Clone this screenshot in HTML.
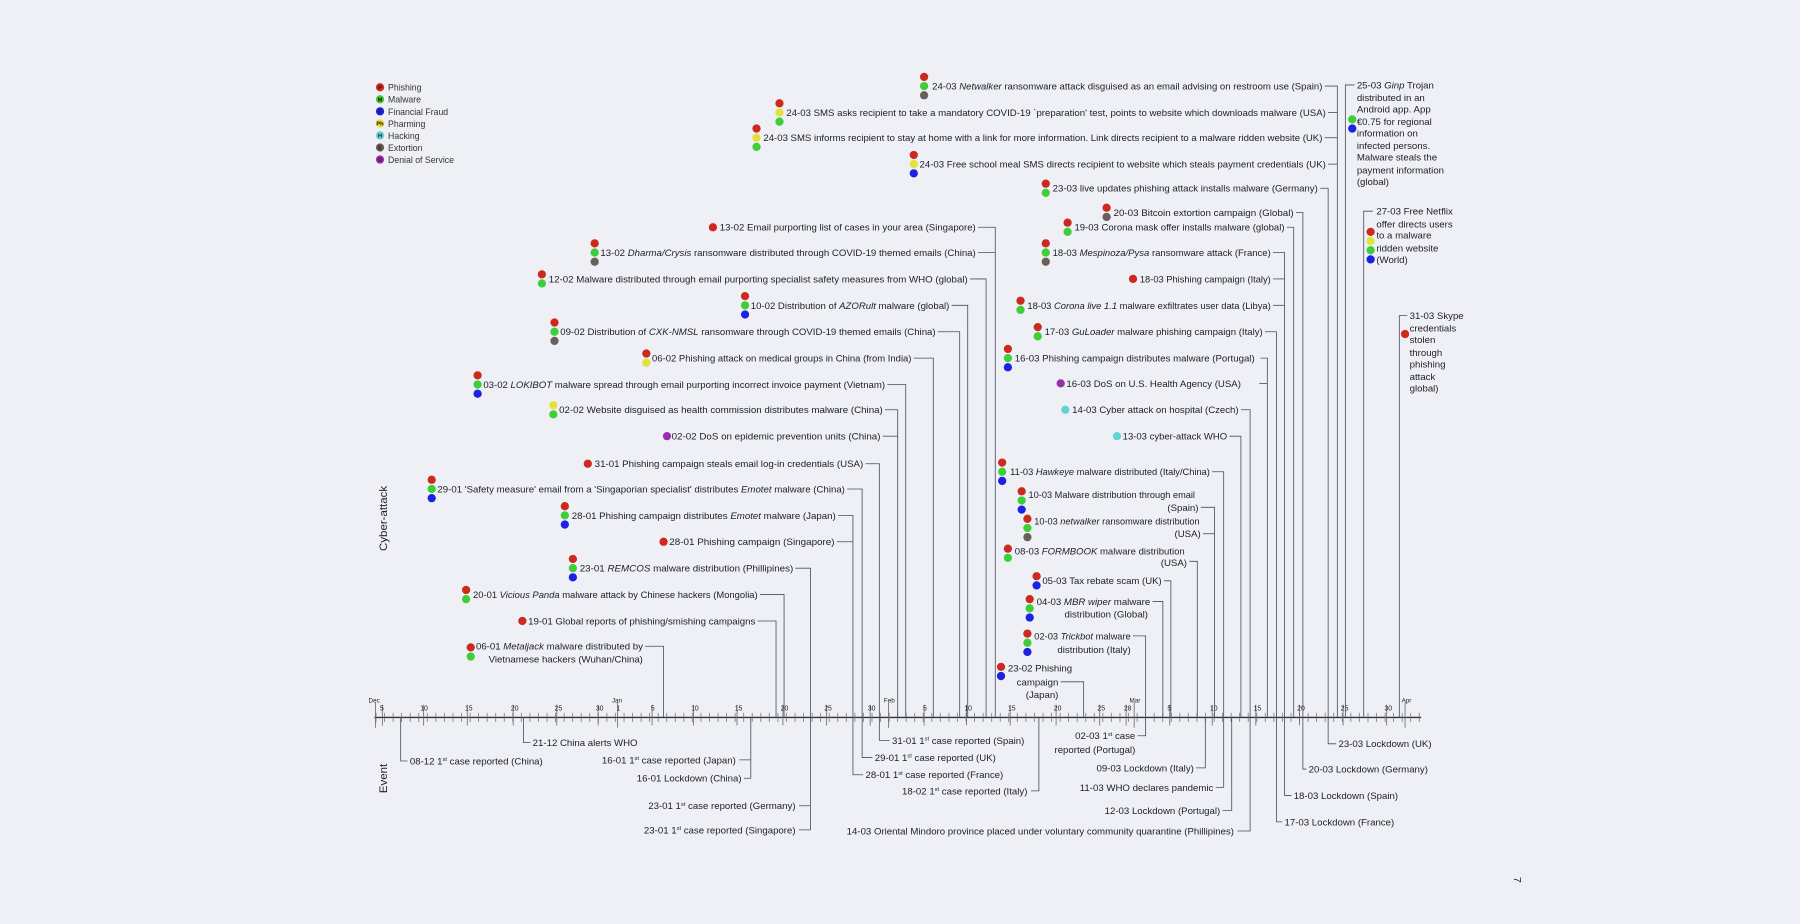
<!DOCTYPE html>
<html><head><meta charset="utf-8"><style>
html,body{margin:0;padding:0;background:#eef0f5;}
svg{display:block}
text{font-family:"Liberation Sans",Arial,sans-serif;fill:#1e1e24}
.t{font-size:8.4px}
.lg{font-size:7.6px;fill:#333}
.il{font-size:5px;font-weight:bold;text-anchor:middle;fill:#3a0a08}
.ax{font-size:6px;fill:#777}
.mo{font-size:5.5px;fill:#888}
.ln{fill:none;stroke:#454a66;stroke-width:0.7}
.P{fill:#cc2a1e}.M{fill:#3fce3a}.F{fill:#1c22e0}.Ph{fill:#e4e23a}.H{fill:#62d4d6}.E{fill:#6a5f58}.D{fill:#9a2fae}
</style></head><body>
<svg width="1800" height="924" viewBox="0 0 1568 805" xmlns="http://www.w3.org/2000/svg">
<defs>
<pattern id="tk" x="327" y="621" width="7.45" height="8" patternUnits="userSpaceOnUse"><line x1="0.5" y1="0" x2="0.5" y2="8" stroke="#666" stroke-width="0.6"/></pattern>
</defs>
<rect width="1568" height="805" fill="#eef0f5"/>

<g>
<circle class="P" cx="331" cy="76" r="3.6"/><text class="il" x="331" y="77.8">P</text><text class="lg" x="338" y="79">Phishing</text>
<circle class="M" cx="331" cy="86.5" r="3.6"/><text class="il" x="331" y="88.3">M</text><text class="lg" x="338" y="89.5">Malware</text>
<circle class="F" cx="331" cy="97" r="3.6"/><text class="il" x="331" y="98.8">F</text><text class="lg" x="338" y="100">Financial Fraud</text>
<circle class="Ph" cx="331" cy="107.5" r="3.6"/><text class="il" x="331" y="109.3">Ph</text><text class="lg" x="338" y="110.5">Pharming</text>
<circle class="H" cx="331" cy="118" r="3.6"/><text class="il" x="331" y="119.8">H</text><text class="lg" x="338" y="121">Hacking</text>
<circle class="E" cx="331" cy="128.5" r="3.6"/><text class="il" x="331" y="130.3">E</text><text class="lg" x="338" y="131.5">Extortion</text>
<circle class="D" cx="331" cy="139" r="3.6"/><text class="il" x="331" y="140.8">D</text><text class="lg" x="338" y="142">Denial of Service</text>
</g>

<text x="0" y="0" font-size="10" transform="translate(337,480) rotate(-90)">Cyber-attack</text>
<text x="0" y="0" font-size="10" transform="translate(337,691) rotate(-90)">Event</text>
<text x="0" y="0" font-size="9" transform="translate(1319,764) rotate(90)">7</text>

<line x1="326" y1="625" x2="1238" y2="625" stroke="#333" stroke-width="1.2"/>
<rect x="327" y="621" width="911" height="8" fill="url(#tk)"/>
<g stroke="#666" stroke-width="0.7">
<line x1="327" y1="612" x2="327" y2="634"/><line x1="333" y1="614" x2="333" y2="632"/><line x1="369" y1="614" x2="369" y2="632"/><line x1="407" y1="614" x2="407" y2="632"/><line x1="447" y1="614" x2="447" y2="632"/><line x1="485" y1="614" x2="485" y2="632"/><line x1="521" y1="614" x2="521" y2="632"/>
<line x1="538" y1="612" x2="538" y2="634"/><line x1="568" y1="614" x2="568" y2="632"/><line x1="604" y1="614" x2="604" y2="632"/><line x1="642" y1="614" x2="642" y2="632"/><line x1="682" y1="614" x2="682" y2="632"/><line x1="720" y1="614" x2="720" y2="632"/><line x1="758" y1="614" x2="758" y2="632"/>
<line x1="774" y1="612" x2="774" y2="634"/><line x1="805" y1="614" x2="805" y2="632"/><line x1="842" y1="614" x2="842" y2="632"/><line x1="880" y1="614" x2="880" y2="632"/><line x1="920" y1="614" x2="920" y2="632"/><line x1="958" y1="614" x2="958" y2="632"/><line x1="981" y1="614" x2="981" y2="632"/>
<line x1="988" y1="612" x2="988" y2="634"/><line x1="1019" y1="614" x2="1019" y2="632"/><line x1="1056" y1="614" x2="1056" y2="632"/><line x1="1094" y1="614" x2="1094" y2="632"/><line x1="1132" y1="614" x2="1132" y2="632"/><line x1="1170" y1="614" x2="1170" y2="632"/><line x1="1208" y1="614" x2="1208" y2="632"/>
<line x1="1224" y1="612" x2="1224" y2="634"/>
</g>
<g class="mo"><text x="321" y="612">Dec</text><text x="533" y="612">Jan</text><text x="770" y="612">Feb</text><text x="984" y="612">Mar</text><text x="1221" y="612">Apr</text></g>
<g class="ax">
<text x="331" y="619">5</text><text x="366" y="619">10</text><text x="405" y="619">15</text><text x="445" y="619">20</text><text x="483" y="619">25</text><text x="519" y="619">30</text><text x="537" y="619">1</text>
<text x="567" y="619">5</text><text x="602" y="619">10</text><text x="640" y="619">15</text><text x="680" y="619">20</text><text x="718" y="619">25</text><text x="756" y="619">30</text>
<text x="804" y="619">5</text><text x="840" y="619">10</text><text x="878" y="619">15</text><text x="918" y="619">20</text><text x="956" y="619">25</text><text x="979" y="619">28</text>
<text x="1017" y="619">5</text><text x="1054" y="619">10</text><text x="1092" y="619">15</text><text x="1130" y="619">20</text><text x="1168" y="619">25</text><text x="1206" y="619">30</text>
</g>

<g class="ln">
<path d="M1154 75H1165V625"/><path d="M1157 98H1165"/><path d="M1154 120H1165"/><path d="M1157 143H1165"/>
<path d="M1150 164H1157V625"/><path d="M1129 185H1135V625"/><path d="M1121 198H1127V625"/>
<path d="M1109 220H1119V625"/><path d="M1109 243H1119"/><path d="M1109 266H1119"/>
<path d="M1102 289H1112V625"/><path d="M1098 312H1104V625"/><path d="M1097 334H1104"/>
<path d="M1081 357H1089V625"/><path d="M1071 380H1081V625"/><path d="M1056 411H1066V625"/>
<path d="M1046 442H1058V625"/><path d="M1048 465H1058"/><path d="M1036 489H1043V625"/>
<path d="M1014 506H1020V625"/><path d="M1004 524H1013V625"/><path d="M987 554H998V625"/><path d="M924 594H944V625"/>
<path d="M1180 74H1172V625"/><path d="M1196 184H1188V625"/><path d="M1226 275H1219V625"/>
<path d="M852 198H867V625"/><path d="M852 220H867"/><path d="M845 243H859V625"/><path d="M829 266H843V625"/>
<path d="M817 289H836V625"/><path d="M796 312H813V625"/><path d="M773 335H789V625"/><path d="M771 357H782V625"/><path d="M769 380H782"/>
<path d="M754 404H766V625"/><path d="M738 426H751V625"/><path d="M730 449H743V625"/><path d="M729 472H743"/>
<path d="M693 495H706V625"/><path d="M662 518H683V625"/><path d="M660 541H676V625"/><path d="M562 563H578V625"/>
</g>
<g class="ln">
<path d="M349 625V663H355"/><path d="M456 625V647H462"/><path d="M654 625V678H648M654 662H644"/><path d="M706 625V723H696M706 702H696"/>
<path d="M766 625V645H775"/><path d="M751 625V660H760"/><path d="M743 625V675H752"/><path d="M905 625V689H898"/><path d="M998 625V641H991"/>
<path d="M1050 625V669H1042"/><path d="M1066 625V686H1059"/><path d="M1073 625V706H1065"/><path d="M1089 625V724H1078"/>
<path d="M1112 625V716H1117"/><path d="M1119 625V693H1125"/><path d="M1135 625V670H1138"/><path d="M1157 625V648H1164"/>
</g>

<g class="t">
<text x="1152" y="78" text-anchor="end" textLength="340" lengthAdjust="spacingAndGlyphs">24-03 <tspan font-style="italic">Netwalker</tspan> ransomware attack disguised as an email advising on restroom use (Spain)</text>
<text x="1155" y="101" text-anchor="end" textLength="470" lengthAdjust="spacingAndGlyphs">24-03 SMS asks recipient to take a mandatory COVID-19 `preparation' test, points to website which downloads malware (USA)</text>
<text x="1152" y="123" text-anchor="end" textLength="487" lengthAdjust="spacingAndGlyphs">24-03 SMS informs recipient to stay at home with a link for more information. Link directs recipient to a malware ridden website (UK)</text>
<text x="1155" y="146" text-anchor="end" textLength="354" lengthAdjust="spacingAndGlyphs">24-03 Free school meal SMS directs recipient to website which steals payment credentials (UK)</text>
<text x="1148" y="167" text-anchor="end" textLength="231" lengthAdjust="spacingAndGlyphs">23-03 live updates phishing attack installs malware (Germany)</text>
<text x="1127" y="188" text-anchor="end" textLength="157" lengthAdjust="spacingAndGlyphs">20-03 Bitcoin extortion campaign (Global)</text>
<text x="1119" y="201" text-anchor="end" textLength="183" lengthAdjust="spacingAndGlyphs">19-03 Corona mask offer installs malware (global)</text>
<text x="1107" y="223" text-anchor="end" textLength="190" lengthAdjust="spacingAndGlyphs">18-03 <tspan font-style="italic">Mespinoza/Pysa</tspan> ransomware attack (France)</text>
<text x="1107" y="246" text-anchor="end" textLength="114" lengthAdjust="spacingAndGlyphs">18-03 Phishing campaign (Italy)</text>
<text x="1107" y="269" text-anchor="end" textLength="212" lengthAdjust="spacingAndGlyphs">18-03 <tspan font-style="italic">Corona live 1.1</tspan> malware exfiltrates user data (Libya)</text>
<text x="1100" y="292" text-anchor="end" textLength="190" lengthAdjust="spacingAndGlyphs">17-03 <tspan font-style="italic">GuLoader</tspan> malware phishing campaign (Italy)</text>
<text x="1093" y="315" text-anchor="end" textLength="209" lengthAdjust="spacingAndGlyphs">16-03 Phishing campaign distributes malware  (Portugal)</text>
<text x="1081" y="337" text-anchor="end" textLength="152" lengthAdjust="spacingAndGlyphs">16-03 DoS on U.S. Health Agency (USA)</text>
<text x="1079" y="360" text-anchor="end" textLength="145" lengthAdjust="spacingAndGlyphs">14-03 Cyber attack on hospital (Czech)</text>
<text x="1069" y="383" text-anchor="end" textLength="91" lengthAdjust="spacingAndGlyphs">13-03 cyber-attack WHO</text>
<text x="1054" y="414" text-anchor="end" textLength="174" lengthAdjust="spacingAndGlyphs">11-03 <tspan font-style="italic">Hawkeye</tspan> malware distributed (Italy/China)</text>
<text x="1041" y="434" text-anchor="end" textLength="145" lengthAdjust="spacingAndGlyphs">10-03 Malware distribution through email</text>
<text x="1044" y="445" text-anchor="end">(Spain)</text>
<text x="1045" y="457" text-anchor="end" textLength="144" lengthAdjust="spacingAndGlyphs">10-03 <tspan font-style="italic">netwalker</tspan> ransomware distribution</text>
<text x="1046" y="468" text-anchor="end">(USA)</text>
<text x="1032" y="483" text-anchor="end" textLength="148" lengthAdjust="spacingAndGlyphs">08-03 <tspan font-style="italic">FORMBOOK</tspan> malware distribution</text>
<text x="1034" y="493" text-anchor="end">(USA)</text>
<text x="1012" y="509" text-anchor="end" textLength="104" lengthAdjust="spacingAndGlyphs">05-03 Tax rebate scam (UK)</text>
<text x="1002" y="527" text-anchor="end" textLength="99" lengthAdjust="spacingAndGlyphs">04-03 <tspan font-style="italic">MBR wiper</tspan> malware</text>
<text x="1000" y="538" text-anchor="end">distribution (Global)</text>
<text x="985" y="557" text-anchor="end" textLength="84" lengthAdjust="spacingAndGlyphs">02-03 <tspan font-style="italic">Trickbot</tspan> malware</text>
<text x="985" y="569" text-anchor="end">distribution (Italy)</text>
<text x="878" y="585">23-02 Phishing</text>
<text x="922" y="597" text-anchor="end">campaign</text>
<text x="922" y="608" text-anchor="end">(Japan)</text>
</g>
<g class="t">
<text x="1182" y="77">25-03 <tspan font-style="italic">Ginp</tspan> Trojan</text>
<text x="1182" y="88">distributed in an</text>
<text x="1182" y="98">Android app. App</text>
<text x="1182" y="109">€0.75 for regional</text>
<text x="1182" y="119">information on</text>
<text x="1182" y="130">infected persons.</text>
<text x="1182" y="140">Malware steals the</text>
<text x="1182" y="151">payment information</text>
<text x="1182" y="161">(global)</text>
<text x="1199" y="187">27-03 Free Netflix</text>
<text x="1199" y="198">offer directs users</text>
<text x="1199" y="208">to a malware</text>
<text x="1199" y="219">ridden website</text>
<text x="1199" y="229">(World)</text>
<text x="1228" y="278">31-03 Skype</text>
<text x="1228" y="289">credentials</text>
<text x="1228" y="299">stolen</text>
<text x="1228" y="310">through</text>
<text x="1228" y="320">phishing</text>
<text x="1228" y="331">attack</text>
<text x="1228" y="341">global)</text>
</g>
<g class="t">
<text x="850" y="201" text-anchor="end" textLength="223" lengthAdjust="spacingAndGlyphs">13-02 Email purporting list of cases in your area (Singapore)</text>
<text x="850" y="223" text-anchor="end" textLength="327" lengthAdjust="spacingAndGlyphs">13-02 <tspan font-style="italic">Dharma/Crysis</tspan> ransomware distributed through COVID-19 themed emails (China)</text>
<text x="843" y="246" text-anchor="end" textLength="365" lengthAdjust="spacingAndGlyphs">12-02 Malware distributed through email purporting specialist safety measures from WHO (global)</text>
<text x="827" y="269" text-anchor="end" textLength="173" lengthAdjust="spacingAndGlyphs">10-02 Distribution of <tspan font-style="italic">AZORult</tspan> malware (global)</text>
<text x="815" y="292" text-anchor="end" textLength="327" lengthAdjust="spacingAndGlyphs">09-02 Distribution of <tspan font-style="italic">CXK-NMSL</tspan> ransomware through COVID-19 themed emails (China)</text>
<text x="794" y="315" text-anchor="end" textLength="226" lengthAdjust="spacingAndGlyphs">06-02 Phishing attack on medical groups in China (from India)</text>
<text x="771" y="338" text-anchor="end" textLength="350" lengthAdjust="spacingAndGlyphs">03-02 <tspan font-style="italic">LOKIBOT</tspan> malware spread through email purporting incorrect invoice payment (Vietnam)</text>
<text x="769" y="360" text-anchor="end" textLength="282" lengthAdjust="spacingAndGlyphs">02-02 Website disguised as health commission distributes malware (China)</text>
<text x="767" y="383" text-anchor="end" textLength="182" lengthAdjust="spacingAndGlyphs">02-02 DoS on epidemic prevention units (China)</text>
<text x="752" y="407" text-anchor="end" textLength="234" lengthAdjust="spacingAndGlyphs">31-01 Phishing campaign steals email log-in credentials (USA)</text>
<text x="736" y="429" text-anchor="end" textLength="355" lengthAdjust="spacingAndGlyphs">29-01 'Safety measure' email from a 'Singaporian specialist' distributes <tspan font-style="italic">Emotet</tspan> malware (China)</text>
<text x="728" y="452" text-anchor="end" textLength="230" lengthAdjust="spacingAndGlyphs">28-01 Phishing campaign distributes <tspan font-style="italic">Emotet</tspan> malware (Japan)</text>
<text x="727" y="475" text-anchor="end" textLength="144" lengthAdjust="spacingAndGlyphs">28-01 Phishing campaign (Singapore)</text>
<text x="691" y="498" text-anchor="end" textLength="186" lengthAdjust="spacingAndGlyphs">23-01 <tspan font-style="italic">REMCOS</tspan> malware distribution (Phillipines)</text>
<text x="660" y="521" text-anchor="end" textLength="248" lengthAdjust="spacingAndGlyphs">20-01 <tspan font-style="italic">Vicious Panda</tspan> malware attack by Chinese hackers (Mongolia)</text>
<text x="658" y="544" text-anchor="end" textLength="198" lengthAdjust="spacingAndGlyphs">19-01 Global reports of phishing/smishing campaigns</text>
<text x="560" y="566" text-anchor="end">06-01 <tspan font-style="italic">Metaljack</tspan> malware distributed by</text>
<text x="560" y="577" text-anchor="end">Vietnamese hackers (Wuhan/China)</text>
</g>
<g class="t">
<text x="357" y="666">08-12 1<tspan font-size="5" dy="-3">st</tspan><tspan dy="3"> case reported (China)</tspan></text>
<text x="464" y="650">21-12 China alerts WHO</text>
<text x="641" y="665" text-anchor="end">16-01 1<tspan font-size="5" dy="-3">st</tspan><tspan dy="3"> case reported (Japan)</tspan></text>
<text x="646" y="681" text-anchor="end">16-01 Lockdown (China)</text>
<text x="693" y="705" text-anchor="end">23-01 1<tspan font-size="5" dy="-3">st</tspan><tspan dy="3"> case reported (Germany)</tspan></text>
<text x="693" y="726" text-anchor="end">23-01 1<tspan font-size="5" dy="-3">st</tspan><tspan dy="3"> case reported (Singapore)</tspan></text>
<text x="777" y="648">31-01 1<tspan font-size="5" dy="-3">st</tspan><tspan dy="3"> case reported (Spain)</tspan></text>
<text x="762" y="663">29-01 1<tspan font-size="5" dy="-3">st</tspan><tspan dy="3"> case reported (UK)</tspan></text>
<text x="754" y="678">28-01 1<tspan font-size="5" dy="-3">st</tspan><tspan dy="3"> case reported (France)</tspan></text>
<text x="895" y="692" text-anchor="end">18-02 1<tspan font-size="5" dy="-3">st</tspan><tspan dy="3"> case reported (Italy)</tspan></text>
<text x="989" y="644" text-anchor="end">02-03 1<tspan font-size="5" dy="-3">st</tspan><tspan dy="3"> case</tspan></text>
<text x="989" y="656" text-anchor="end">reported  (Portugal)</text>
<text x="1040" y="672" text-anchor="end">09-03 Lockdown (Italy)</text>
<text x="1057" y="689" text-anchor="end">11-03 WHO declares pandemic</text>
<text x="1063" y="709" text-anchor="end">12-03 Lockdown (Portugal)</text>
<text x="1075" y="727" text-anchor="end">14-03 Oriental Mindoro province placed under voluntary community quarantine (Phillipines)</text>
<text x="1119" y="719">17-03 Lockdown (France)</text>
<text x="1127" y="696">18-03 Lockdown (Spain)</text>
<text x="1140" y="673">20-03 Lockdown (Germany)</text>
<text x="1166" y="651">23-03 Lockdown (UK)</text>
</g>

<g>
<circle class="P" cx="805" cy="67" r="3.6"/><circle class="M" cx="805" cy="75" r="3.6"/><circle class="E" cx="805" cy="83" r="3.6"/>
<circle class="P" cx="679" cy="90" r="3.6"/><circle class="Ph" cx="679" cy="98" r="3.6"/><circle class="M" cx="679" cy="106" r="3.6"/>
<circle class="P" cx="659" cy="112" r="3.6"/><circle class="Ph" cx="659" cy="120" r="3.6"/><circle class="M" cx="659" cy="128" r="3.6"/>
<circle class="P" cx="796" cy="135" r="3.6"/><circle class="Ph" cx="796" cy="143" r="3.6"/><circle class="F" cx="796" cy="151" r="3.6"/>
<circle class="P" cx="911" cy="160" r="3.6"/><circle class="M" cx="911" cy="168" r="3.6"/>
<circle class="P" cx="964" cy="181" r="3.6"/><circle class="E" cx="964" cy="189" r="3.6"/>
<circle class="P" cx="930" cy="194" r="3.6"/><circle class="M" cx="930" cy="202" r="3.6"/>
<circle class="P" cx="911" cy="212" r="3.6"/><circle class="M" cx="911" cy="220" r="3.6"/><circle class="E" cx="911" cy="228" r="3.6"/>
<circle class="P" cx="987" cy="243" r="3.6"/>
<circle class="P" cx="889" cy="262" r="3.6"/><circle class="M" cx="889" cy="270" r="3.6"/>
<circle class="P" cx="904" cy="285" r="3.6"/><circle class="M" cx="904" cy="293" r="3.6"/>
<circle class="P" cx="878" cy="304" r="3.6"/><circle class="M" cx="878" cy="312" r="3.6"/><circle class="F" cx="878" cy="320" r="3.6"/>
<circle class="D" cx="924" cy="334" r="3.6"/>
<circle class="H" cx="928" cy="357" r="3.6"/>
<circle class="H" cx="973" cy="380" r="3.6"/>
<circle class="P" cx="873" cy="403" r="3.6"/><circle class="M" cx="873" cy="411" r="3.6"/><circle class="F" cx="873" cy="419" r="3.6"/>
<circle class="P" cx="890" cy="428" r="3.6"/><circle class="M" cx="890" cy="436" r="3.6"/><circle class="F" cx="890" cy="444" r="3.6"/>
<circle class="P" cx="895" cy="452" r="3.6"/><circle class="M" cx="895" cy="460" r="3.6"/><circle class="E" cx="895" cy="468" r="3.6"/>
<circle class="P" cx="878" cy="478" r="3.6"/><circle class="M" cx="878" cy="486" r="3.6"/>
<circle class="P" cx="903" cy="502" r="3.6"/><circle class="F" cx="903" cy="510" r="3.6"/>
<circle class="P" cx="897" cy="522" r="3.6"/><circle class="M" cx="897" cy="530" r="3.6"/><circle class="F" cx="897" cy="538" r="3.6"/>
<circle class="P" cx="895" cy="552" r="3.6"/><circle class="M" cx="895" cy="560" r="3.6"/><circle class="F" cx="895" cy="568" r="3.6"/>
<circle class="P" cx="872" cy="581" r="3.6"/><circle class="F" cx="872" cy="589" r="3.6"/>
<circle class="M" cx="1178" cy="104" r="3.6"/><circle class="F" cx="1178" cy="112" r="3.6"/>
<circle class="P" cx="1194" cy="202" r="3.6"/><circle class="Ph" cx="1194" cy="210" r="3.6"/><circle class="M" cx="1194" cy="218" r="3.6"/><circle class="F" cx="1194" cy="226" r="3.6"/>
<circle class="P" cx="1224" cy="291" r="3.6"/>
<circle class="P" cx="621" cy="198" r="3.6"/>
<circle class="P" cx="518" cy="212" r="3.6"/><circle class="M" cx="518" cy="220" r="3.6"/><circle class="E" cx="518" cy="228" r="3.6"/>
<circle class="P" cx="472" cy="239" r="3.6"/><circle class="M" cx="472" cy="247" r="3.6"/>
<circle class="P" cx="649" cy="258" r="3.6"/><circle class="M" cx="649" cy="266" r="3.6"/><circle class="F" cx="649" cy="274" r="3.6"/>
<circle class="P" cx="483" cy="281" r="3.6"/><circle class="M" cx="483" cy="289" r="3.6"/><circle class="E" cx="483" cy="297" r="3.6"/>
<circle class="P" cx="563" cy="308" r="3.6"/><circle class="Ph" cx="563" cy="316" r="3.6"/>
<circle class="P" cx="416" cy="327" r="3.6"/><circle class="M" cx="416" cy="335" r="3.6"/><circle class="F" cx="416" cy="343" r="3.6"/>
<circle class="Ph" cx="482" cy="353" r="3.6"/><circle class="M" cx="482" cy="361" r="3.6"/>
<circle class="D" cx="581" cy="380" r="3.6"/>
<circle class="P" cx="512" cy="404" r="3.6"/>
<circle class="P" cx="376" cy="418" r="3.6"/><circle class="M" cx="376" cy="426" r="3.6"/><circle class="F" cx="376" cy="434" r="3.6"/>
<circle class="P" cx="492" cy="441" r="3.6"/><circle class="M" cx="492" cy="449" r="3.6"/><circle class="F" cx="492" cy="457" r="3.6"/>
<circle class="P" cx="578" cy="472" r="3.6"/>
<circle class="P" cx="499" cy="487" r="3.6"/><circle class="M" cx="499" cy="495" r="3.6"/><circle class="F" cx="499" cy="503" r="3.6"/>
<circle class="P" cx="406" cy="514" r="3.6"/><circle class="M" cx="406" cy="522" r="3.6"/>
<circle class="P" cx="455" cy="541" r="3.6"/>
<circle class="P" cx="410" cy="564" r="3.6"/><circle class="M" cx="410" cy="572" r="3.6"/>
</g>
</svg>
</body></html>
